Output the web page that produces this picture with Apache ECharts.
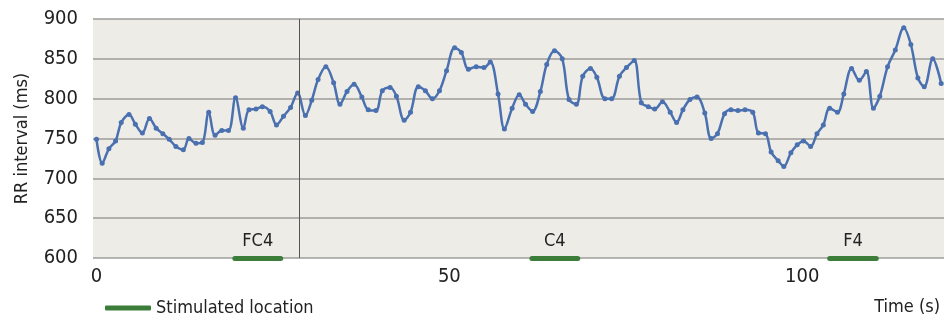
<!DOCTYPE html>
<html>
<head>
<meta charset="utf-8">
<script src="https://cdn.jsdelivr.net/npm/echarts@6/dist/echarts.min.js"></script>
<style>
  html, body { margin: 0; padding: 0; background: #fff; }
  #main { width: 944px; height: 320px; }
</style>
</head>
<body>
<div id="main"></div>
<script>
// time (s) and RR interval (ms)
const times = [
  0, 0.8, 1.75, 2.7, 3.5, 4.6, 5.5, 6.5, 7.5, 8.45, 9.4, 10.3, 11.25, 12.3, 13.1, 14.1, 15, 15.9, 16.8, 17.75,
  18.7, 19.7, 20.8, 21.6, 22.6, 23.5, 24.6, 25.5, 26.5, 27.5, 28.5, 29.6, 30.5, 31.4, 32.5, 33.6, 34.5, 35.5, 36.5, 37.6,
  38.5, 39.6, 40.5, 41.6, 42.5, 43.6, 44.5, 45.6, 46.6, 47.6, 48.6, 49.6, 50.75, 51.7, 52.7, 53.8, 54.9, 55.8, 56.9, 57.8,
  58.9, 59.9, 60.8, 61.8, 62.9, 63.8, 64.9, 66, 66.95, 68, 68.9, 70, 70.9, 72.05, 73, 74.1, 75.1, 76.2, 77.2, 78.2,
  79.1, 80.2, 81.3, 82.2, 83.1, 84.1, 85.1, 86.2, 87.1, 88, 89, 89.9, 90.9, 91.9, 93, 93.8, 94.8, 95.6, 96.6, 97.4,
  98.4, 99.3, 100.2, 101.2, 102.1, 103, 103.9, 105, 105.9, 107, 108.1, 109.1, 110.1, 111, 112.1, 113.2, 114.4, 115.4, 116.4, 117.3,
  118.5, 119.7
];
const rr = [
  749, 719, 737, 747, 770, 780, 768, 757, 775, 763, 756, 749, 740, 736, 750, 744, 745, 783, 754, 760,
  760, 801, 763, 786, 787, 790, 784, 767, 778, 789, 807, 779, 798, 824, 840, 820, 793, 809, 818, 802,
  786, 785, 810, 814, 803, 773, 783, 815, 810, 800, 810, 835, 864, 858, 837, 840, 839, 846, 806, 762,
  788, 805, 793, 784, 809, 843, 860, 850, 799, 793, 828, 838, 827, 800, 800, 828, 839, 848, 795, 790,
  787, 796, 783, 770, 786, 799, 802, 782, 750, 756, 781, 786, 785, 786, 783, 757, 756, 733, 722, 715,
  732, 742, 747, 740, 756, 767, 788, 783, 806, 838, 823, 834, 788, 803, 840, 861, 889, 868, 826, 815,
  850, 819
];

// stimulation windows
const stimNames = ['FC4', 'C4', 'F4'];
const stimStart = [19.6, 61.7, 103.9];
const stimEnd = [26.1, 68.2, 110.5];
const markerTime = 28.75;

const xTicks = [0, 50, 100];

const FONT = '"Liberation Sans Narrow", "DejaVu Sans Condensed", sans-serif';
const BLUE = '#4a70b0';
const GREEN = '#3c7d3a';

const points = times.map((t, i) => [t, rr[i]]);
const stimLines = stimNames.map((n, i) => [
  { coord: [stimStart[i], 600], name: n },
  { coord: [stimEnd[i], 600] }
]);

const chart = echarts.init(document.getElementById('main'));
chart.setOption({
  backgroundColor: '#fff',
  animation: false,
  textStyle: { fontFamily: FONT },
  grid: {
    left: 93, right: 0, top: 19, bottom: 62,
    show: true, backgroundColor: '#edece7', borderWidth: 0
  },
  legend: {
    data: ['Stimulated location'],
    left: 100, top: 294,
    icon: 'roundRect', itemWidth: 46, itemHeight: 5, itemGap: 10,
    textStyle: { fontFamily: FONT, fontSize: 18, color: '#222' }
  },
  xAxis: {
    type: 'value',
    min: -0.5, max: 120.1,
    name: 'Time (s)',
    nameLocation: 'end',
    nameGap: 0,
    nameTextStyle: {
      fontFamily: FONT, fontSize: 18, color: '#222',
      align: 'right', verticalAlign: 'top', padding: [40, 4, 0, 0]
    },
    axisLine: { show: false },
    axisTick: { show: false },
    splitLine: { show: false },
    axisLabel: {
      fontFamily: FONT, fontSize: 20, color: '#222', margin: 9,
      customValues: xTicks
    }
  },
  yAxis: {
    type: 'value',
    min: 600, max: 900, interval: 50,
    name: 'RR interval (ms)',
    nameLocation: 'middle',
    nameGap: 62,
    nameTextStyle: { fontFamily: FONT, fontSize: 18, color: '#222' },
    axisLine: { show: false },
    axisTick: { show: false },
    axisLabel: { fontFamily: FONT, fontSize: 20, color: '#222', margin: 15 },
    splitLine: { lineStyle: { color: '#9c9c9a', width: 1.5 } }
  },
  series: [
    {
      name: 'RR',
      type: 'line',
      data: points,
      smooth: 0.35,
      symbol: 'circle',
      symbolSize: 5,
      lineStyle: { color: BLUE, width: 2.5 },
      itemStyle: { color: BLUE },
      z: 3,
      markLine: {
        silent: true,
        symbol: 'none',
        label: { show: false },
        lineStyle: { color: '#555', width: 1, type: 'solid' },
        data: [{ xAxis: markerTime }]
      }
    },
    {
      name: 'Stimulated location',
      type: 'line',
      data: [],
      itemStyle: { color: GREEN },
      lineStyle: { color: GREEN, width: 5 },
      markLine: {
        silent: true,
        symbol: 'none',
        lineStyle: { color: GREEN, width: 5, type: 'solid', cap: 'round' },
        label: {
          show: true, position: 'middle', distance: 8,
          formatter: p => p.name,
          fontFamily: FONT, fontSize: 18, color: '#222'
        },
        data: stimLines
      }
    }
  ]
});
</script>
</body>
</html>
